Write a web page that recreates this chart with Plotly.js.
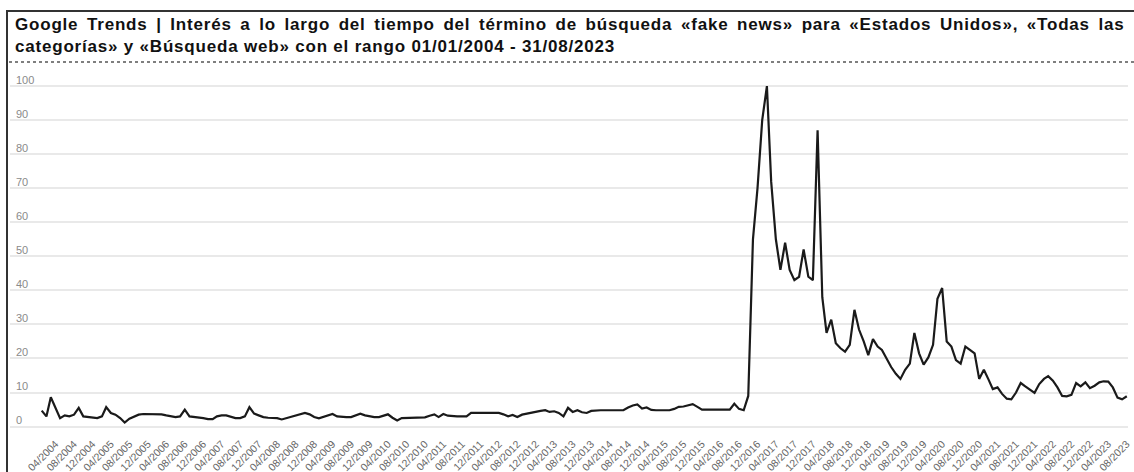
<!DOCTYPE html>
<html>
<head>
<meta charset="utf-8">
<script src="https://cdn.plot.ly/plotly-3.0.1.min.js"></script>
<style>
  html, body { margin: 0; padding: 0; background: #fff; }
  #chart { width: 1134px; height: 472px; }
  .gtitle { letter-spacing: 0.8px; }
  .gtitle .line:first-child { word-spacing: 3.1px; }
</style>
</head>
<body>
<div id="chart"></div>
<script>
// Monthly Google Trends interest, Jan 2004 - Aug 2023
const startYear = 2004;
const interest = [
  // 2004
  4.7, 3, 8.6, 5.5, 2.5, 3.3, 3, 3.5, 5.5, 3, 2.8, 2.6,
  // 2005
  2.5, 3, 5.7, 4, 3.5, 2.5, 1.2, 2.3, 3, 3.5, 3.7, 3.7,
  // 2006
  3.7, 3.7, 3.6, 3.3, 3, 2.8, 3, 5, 3, 2.9, 2.8, 2.5,
  // 2007
  2.2, 2.2, 3, 3.3, 3.3, 3, 2.5, 2.5, 3, 5.7, 3.8, 3.3,
  // 2008
  2.8, 2.6, 2.5, 2.5, 2.1, 2.5, 2.8, 3.4, 3.8, 4, 3.6, 2.8,
  // 2009
  2.4, 2.9, 3.4, 3.7, 3, 2.8, 2.8, 2.8, 3.2, 3.8, 3.3, 3,
  // 2010
  2.8, 2.8, 3.2, 3.6, 2.6, 1.8, 2.5, 2.5, 2.5, 2.5, 2.6, 2.7,
  // 2011
  3.2, 3.6, 2.8, 3.7, 3.2, 3, 3, 3, 3, 4, 4, 4,
  // 2012
  4, 4, 4, 4, 3.6, 3, 3.4, 2.8, 3.5, 3.8, 4, 4.3,
  // 2013
  4.6, 4.8, 4.3, 4.5, 4, 3, 5.5, 4.3, 4.8, 4.2, 4, 4.6,
  // 2014
  4.8, 4.8, 4.8, 4.8, 4.8, 4.8, 4.8, 5.6, 6.2, 6.5, 5.3, 5.6,
  // 2015
  4.9, 4.8, 4.8, 4.8, 4.8, 5.2, 5.8, 5.9, 6.2, 6.6, 5.8, 5,
  // 2016
  5, 5, 5, 5, 5, 5, 6.7, 5.2, 4.8, 9, 55, 70,
  // 2017
  90, 100, 72, 55, 46, 54, 46, 43, 44, 52, 44, 43,
  // 2018
  87, 38, 27.5, 31.4, 24.5, 23, 22, 24, 34.3, 28.5, 25, 21,
  // 2019
  25.7, 23.5, 22.5, 20, 17.5, 15.5, 14, 16.7, 18.5, 27.5, 21.5, 18.2,
  // 2020
  20.3, 24, 37.5, 40.7, 25, 23.5, 19.5, 18.5, 23.5, 22.5, 21.5, 14,
  // 2021
  16.7, 13.8, 11, 11.5, 9.6, 8.2, 8, 10, 12.8, 11.8, 10.8, 9.9,
  // 2022
  12.5, 14, 14.8, 13.5, 11.5, 9, 8.9, 9.3, 12.8, 11.8, 13, 11.3,
  // 2023
  12, 13, 13.3, 13.2, 11.5, 8.5, 8, 8.9
];

const yTicks = [0, 10, 20, 30, 40, 50, 60, 70, 80, 90, 100];
const firstTick = {year: 2004, month: 4};
const lastTick = {year: 2023, month: 8};
const tickStepMonths = 4;

const titleText = 'Google Trends | Interés a lo largo del tiempo del término de búsqueda «fake news» para «Estados Unidos», «Todas las<br>categorías» y «Búsqueda web» con el rango 01/01/2004 - 31/08/2023';

function pad(n) { return (n < 10 ? '0' : '') + n; }

const months = interest.map((_, i) => {
  const y = startYear + Math.floor(i / 12);
  const m = (i % 12) + 1;
  return y + '-' + pad(m) + '-01';
});

const tickVals = [], tickText = [];
{
  let y = firstTick.year, m = firstTick.month;
  while (y < lastTick.year || (y === lastTick.year && m <= lastTick.month)) {
    tickVals.push(y + '-' + pad(m) + '-01');
    tickText.push(pad(m) + '/' + y);
    m += tickStepMonths;
    if (m > 12) { m -= 12; y += 1; }
  }
}

const W = 1134, H = 472;
// y: 0 -> 427px, 100 -> 86px  (3.41 px per unit)
const yMin = -1, yMax = 105;
const mL = 10, mR = 6, mT = 69, mB = 42;
const pw = W - mL - mR, ph = H - mT - mB;
const px = x => (x - mL) / pw;
const py = y => 1 - (y - mT) / ph;

const trace = {
  type: 'scatter',
  mode: 'lines',
  x: months,
  y: interest,
  line: {color: '#1a1a1a', width: 2.2},
  hoverinfo: 'x+y'
};

const layout = {
  width: W, height: H,
  margin: {l: mL, r: mR, t: mT, b: mB, pad: 0},
  paper_bgcolor: '#fff',
  plot_bgcolor: '#fff',
  showlegend: false,
  title: {
    text: titleText,
    xref: 'container', yref: 'container',
    x: 15 / W, xanchor: 'left',
    y: 1 - 29.5 / H, yanchor: 'middle',
    font: {family: 'Liberation Sans, Arial, sans-serif', size: 17, color: '#111', weight: 'bold'}
  },
  xaxis: {
    type: 'date',
    range: ['2003-06-06', '2023-08-09'],
    tickmode: 'array',
    tickvals: tickVals,
    ticktext: tickText,
    tickangle: -45,
    ticks: '',
    showgrid: false,
    zeroline: false,
    showline: false,
    tickfont: {family: 'Liberation Sans, Arial, sans-serif', size: 10.5, color: '#666'},
    ticklabelstandoff: 5
  },
  yaxis: {
    range: [yMin, yMax],
    tickmode: 'array',
    tickvals: yTicks,
    ticktext: yTicks.map(String),
    ticklabelposition: 'inside',
    ticklabelshift: -6,
    ticklabelstandoff: 3,
    ticks: '',
    showgrid: true,
    gridcolor: '#e9e9e9',
    gridwidth: 1.5,
    zeroline: false,
    showline: false,
    tickfont: {family: 'Liberation Sans, Arial, sans-serif', size: 11, color: '#8a8a8a'}
  },
  shapes: [
    {type: 'line', xref: 'paper', yref: 'paper', x0: px(6), x1: px(1134), y0: py(11), y1: py(11),
     line: {color: '#333', width: 2}},
    {type: 'line', xref: 'paper', yref: 'paper', x0: px(7), x1: px(7), y0: py(10), y1: py(472),
     line: {color: '#333', width: 2}},
    {type: 'line', xref: 'paper', yref: 'paper', x0: px(9), x1: px(1134), y0: py(62), y1: py(62),
     line: {color: '#555', width: 1.5, dash: 'dot'}}
  ]
};

Plotly.newPlot('chart', [trace], layout, {displayModeBar: false, responsive: false});
</script>
</body>
</html>
